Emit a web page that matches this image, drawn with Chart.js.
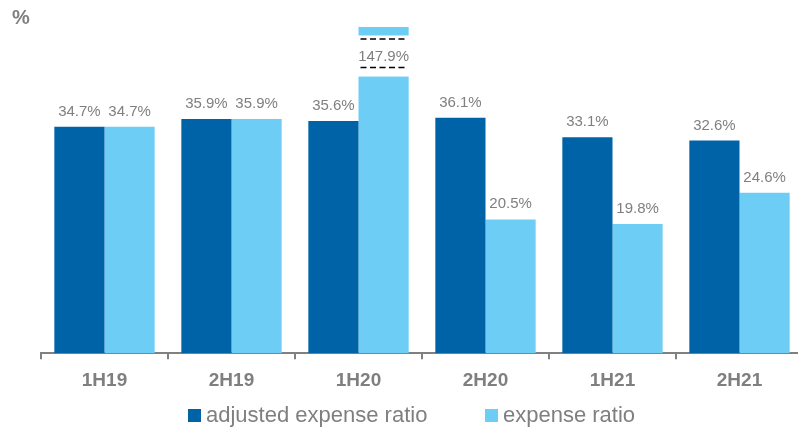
<!DOCTYPE html>
<html>
<head>
<meta charset="utf-8">
<script src="https://cdn.jsdelivr.net/npm/chart.js@4.4.0/dist/chart.umd.min.js"></script>
<style>
  html, body { margin: 0; padding: 0; background: #fff; overflow: hidden; }
  /* a bit wider than the window: the axis runs off the right edge like the original */
  #wrap { width: 803px; height: 429px; position: relative; }
</style>
</head>
<body>
<div id="wrap"><canvas id="myChart"></canvas></div>
<script>
const periods = ['1H19', '2H19', '1H20', '2H20', '1H21', '2H21'];
const adjustedExpenseRatio = [34.7, 35.9, 35.6, 36.1, 33.1, 32.6];
const expenseRatio = [34.7, 35.9, 147.9, 20.5, 19.8, 24.6];
const seriesNames = ['adjusted expense ratio', 'expense ratio'];
const yMax = 50;
// axis break for the bar that goes off the scale (value space)
const breakFrom = 42.4;
const breakTo = 48.7;

const grey = '#7f7f7f';
const fontFam = '"Liberation Sans", Arial, sans-serif';

// value labels, broken bar and legend
const labelPlugin = {
  id: 'labelPlugin',
  afterDatasetsDraw(chart) {
    const ctx = chart.ctx;
    const y = chart.scales.y;
    ctx.save();
    ctx.font = '15px ' + fontFam;
    ctx.fillStyle = grey;
    ctx.textAlign = 'center';
    chart.data.datasets.forEach((ds, i) => {
      const meta = chart.getDatasetMeta(i);
      meta.data.forEach((bar, j) => {
        const v = ds.data[j];
        const txt = v.toFixed(1) + '%';
        if (v > yMax) {
          const top = y.getPixelForValue(breakTo);
          const bottom = y.getPixelForValue(breakFrom);
          const left = bar.x - bar.width / 2 - 1;
          ctx.fillStyle = '#fff';
          ctx.fillRect(left, top, bar.width + 2, bottom - top);
          ctx.strokeStyle = '#000';
          ctx.lineWidth = 1.5;
          ctx.setLineDash([6, 3.5]);
          [top + 3.5, bottom - 9].forEach(py => {
            ctx.beginPath();
            ctx.moveTo(bar.x - bar.width / 2 + 2, py);
            ctx.lineTo(bar.x + bar.width / 2 - 4, py);
            ctx.stroke();
          });
          ctx.setLineDash([]);
          ctx.fillStyle = grey;
          ctx.textBaseline = 'middle';
          ctx.fillText(txt, bar.x, (top + bottom) / 2 + 0.5);
        } else {
          ctx.textBaseline = 'alphabetic';
          ctx.fillText(txt, bar.x, bar.y - 11);
        }
      });
    });

    // unit at top left
    ctx.font = 'bold 20px ' + fontFam;
    ctx.textAlign = 'left';
    ctx.textBaseline = 'alphabetic';
    ctx.fillText('%', 12, 24);

    // legend
    ctx.font = '22px ' + fontFam;
    const legendX = [188, 485];
    chart.data.datasets.forEach((ds, i) => {
      ctx.fillStyle = ds.backgroundColor;
      ctx.fillRect(legendX[i], 409, 13, 13);
      ctx.fillStyle = grey;
      ctx.fillText(ds.label, legendX[i] + 18, 422);
    });
    ctx.restore();
  }
};

new Chart(document.getElementById('myChart').getContext('2d'), {
  type: 'bar',
  data: {
    labels: periods,
    datasets: [
      {
        label: seriesNames[0],
        data: adjustedExpenseRatio,
        backgroundColor: '#0063a7'
      },
      {
        label: seriesNames[1],
        data: expenseRatio,
        backgroundColor: '#6dcdf4'
      }
    ]
  },
  options: {
    responsive: true,
    maintainAspectRatio: false,
    animation: false,
    layout: { padding: { left: 41, right: 0, top: 27, bottom: 27 } },
    datasets: {
      bar: { categoryPercentage: 0.79, barPercentage: 1.0 }
    },
    scales: {
      y: { display: false, min: 0, max: yMax },
      x: {
        border: { display: true, color: '#808080', width: 2 },
        grid: {
          display: true,
          drawOnChartArea: false,
          drawTicks: true,
          tickLength: 6,
          color: '#808080',
          lineWidth: 2,
          offset: true
        },
        ticks: {
          color: grey,
          padding: 10,
          font: { family: fontFam, size: 19, weight: 'bold' }
        }
      }
    },
    plugins: {
      tooltip: { enabled: false },
      legend: { display: false }
    }
  },
  plugins: [labelPlugin]
});
</script>
</body>
</html>
